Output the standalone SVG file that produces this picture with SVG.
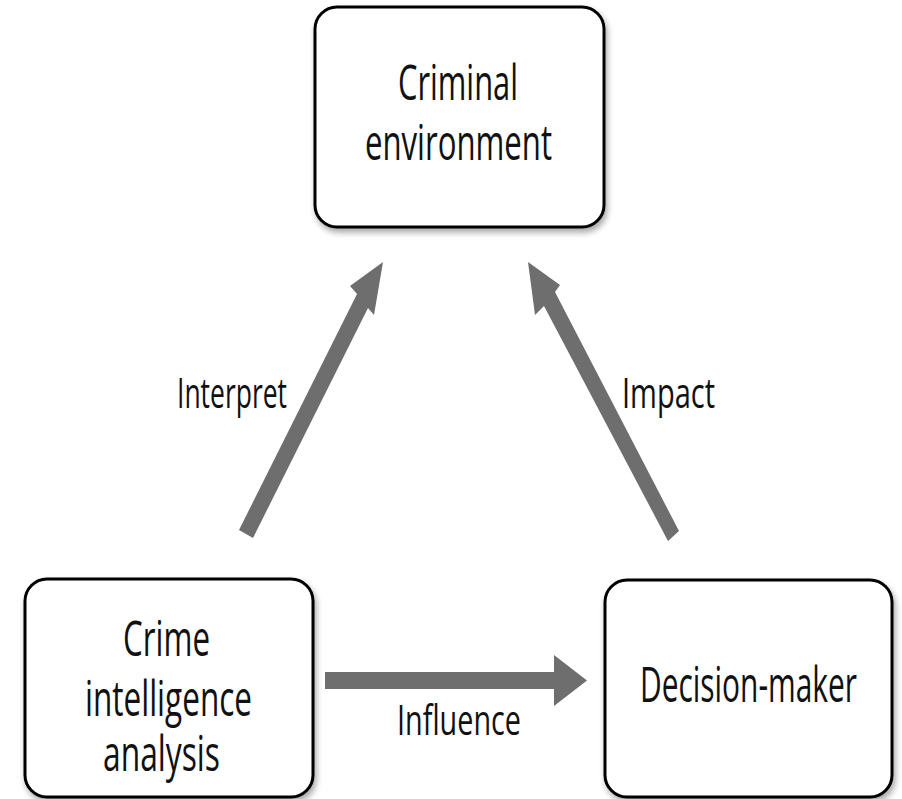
<svg xmlns="http://www.w3.org/2000/svg" width="902" height="799" viewBox="0 0 902 799">
  <defs>
    <filter id="soft-shadow" x="-10%" y="-10%" width="125%" height="130%">
      <feGaussianBlur in="SourceAlpha" stdDeviation="3"/>
      <feOffset dx="2" dy="4" result="blur"/>
      <feComponentTransfer><feFuncA type="linear" slope="0.35"/></feComponentTransfer>
      <feMerge><feMergeNode/><feMergeNode in="SourceGraphic"/></feMerge>
    </filter>
  </defs>
  <style>
    .box { fill: #ffffff; stroke: #000000; stroke-width: 3; filter: url(#soft-shadow); }
    .node-text { font-family: "Open Sans", "Liberation Sans", sans-serif; font-size: 49px; fill: #111111; }
    .label { font-family: "Open Sans", "Liberation Sans", sans-serif; font-size: 42px; fill: #111111; }
    .arrow { fill: #6e6e6e; }
  </style>

  <rect width="902" height="799" fill="#ffffff"/>

  <!-- connectors -->
  <g id="connectors">
    <!-- analysis -> criminal environment -->
    <polygon class="arrow" points="239,530 357,294 350,286 383,262 374,315 368,308 253,538"/>
    <!-- decision-maker -> criminal environment -->
    <polygon class="arrow" points="668,541 544,306 535,315 528,262 560,285 555,292 679,531"/>
    <!-- analysis -> decision-maker -->
    <polygon class="arrow" points="325,672 554,672 554,655 587,680.5 554,706 554,689 325,689"/>
    <text class="label" x="177" y="408" textLength="110" lengthAdjust="spacingAndGlyphs">Interpret</text>
    <text class="label" x="622" y="408" textLength="93" lengthAdjust="spacingAndGlyphs">Impact</text>
    <text class="label" x="397" y="735" textLength="124" lengthAdjust="spacingAndGlyphs">Influence</text>
  </g>

  <g id="criminal-environment">
    <rect class="box" x="315" y="7" width="289" height="220" rx="22"/>
    <text class="node-text" x="398" y="100" textLength="120" lengthAdjust="spacingAndGlyphs">Criminal</text>
    <text class="node-text" x="365" y="160" textLength="187" lengthAdjust="spacingAndGlyphs">environment</text>
  </g>

  <g id="crime-intelligence-analysis">
    <rect class="box" x="25" y="579" width="288" height="218" rx="22"/>
    <text class="node-text" x="123" y="656" textLength="87" lengthAdjust="spacingAndGlyphs">Crime</text>
    <text class="node-text" x="85" y="716" textLength="167" lengthAdjust="spacingAndGlyphs">intelligence</text>
    <text class="node-text" x="103" y="771" textLength="117" lengthAdjust="spacingAndGlyphs">analysis</text>
  </g>

  <g id="decision-maker">
    <rect class="box" x="605" y="580" width="287" height="217" rx="22"/>
    <text class="node-text" x="640" y="702" textLength="217" lengthAdjust="spacingAndGlyphs">Decision-maker</text>
  </g>
</svg>
